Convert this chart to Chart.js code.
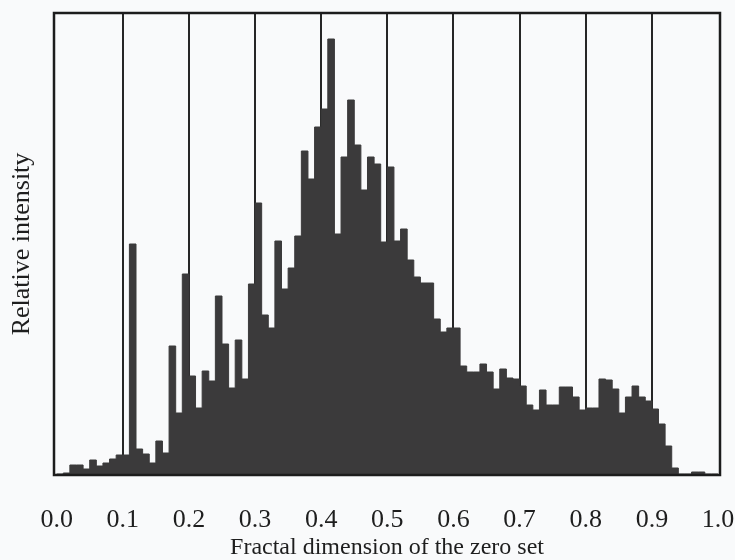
<!DOCTYPE html>
<html>
<head>
<meta charset="utf-8">
<script src="https://cdn.jsdelivr.net/npm/chart.js@4.4.0/dist/chart.umd.min.js"></script>
<style>
  html, body { margin: 0; padding: 0; background: #f9fafb; }
  #wrap { width: 735px; height: 560px; }
</style>
</head>
<body>
<div id="wrap"><canvas id="histChart" width="735" height="560"></canvas></div>
<script>
// Histogram bins are 0.01 wide, starting at 0.00
const binWidth = 0.01;

// Relative intensity per bin (arbitrary units)
const intensity = [
  1, 2, 10, 10, 6, 15, 9, 12, 16, 20,
  20, 231, 26, 21, 12, 34, 22, 129, 62, 201,
  99, 67, 104, 94, 179, 131, 87, 135, 96, 191,
  272, 160, 147, 234, 186, 207, 239, 324, 296, 348,
  366, 436, 241, 318, 375, 330, 285, 318, 311, 233,
  308, 234, 246, 215, 198, 192, 192, 156, 143, 147,
  147, 109, 103, 103, 111, 103, 86, 106, 97, 96,
  89, 70, 65, 85, 70, 70, 88, 88, 78, 65,
  67, 67, 96, 95, 86, 62, 78, 89, 78, 74,
  66, 51, 29, 7, 1, 1, 3, 3, 1, 1
];

const tickValues = [0, 0.1, 0.2, 0.3, 0.4, 0.5, 0.6, 0.7, 0.8, 0.9, 1.0];
const tickLabels = ['0.0', '0.1', '0.2', '0.3', '0.4', '0.5', '0.6', '0.7', '0.8', '0.9', '1.0'];

const xTitle = 'Fractal dimension of the zero set';
const yTitle = 'Relative intensity';

const serif = '"Liberation Serif", "DejaVu Serif", serif';
const barColor = '#3b3a3b';

// Build step points: each bin starts at its left edge, close at 1.0
function buildSteps() {
  const pts = intensity.map((v, i) => ({ x: i * binWidth, y: v }));
  pts.push({ x: intensity.length * binWidth, y: 0 });
  return pts;
}

// Draw the box around the plot
const framePlugin = {
  id: 'frame',
  afterDatasetsDraw(chart) {
    const { ctx, chartArea: a } = chart;
    ctx.save();
    ctx.strokeStyle = '#1c1c1c';
    ctx.lineWidth = 2.5;
    ctx.strokeRect(a.left, a.top, a.right - a.left, a.bottom - a.top);
    ctx.restore();
  },
};

function createChart() {
  const ctx = document.getElementById('histChart').getContext('2d');

  /* global Chart */
  return new Chart(ctx, {
    type: 'line',
    data: {
      datasets: [{
        data: buildSteps(),
        stepped: true,
        fill: 'origin',
        backgroundColor: barColor,
        borderColor: barColor,
        borderWidth: 1,
        pointRadius: 0,
      }],
    },
    options: {
      responsive: false,
      animation: false,
      devicePixelRatio: 1,
      layout: { padding: { top: 13, right: 15, bottom: 0, left: 0 } },
      plugins: {
        legend: { display: false },
        tooltip: { enabled: false },
      },
      scales: {
        x: {
          type: 'linear',
          min: -0.004,
          max: 1.003,
          afterBuildTicks: (scale) => {
            scale.ticks = tickValues.map((v) => ({ value: v }));
          },
          afterFit: (scale) => {
            scale.height = 85;
            scale.paddingLeft = 0;
            scale.paddingRight = 0;
          },
          ticks: {
            autoSkip: false,
            maxRotation: 0,
            padding: 30,
            color: '#1e1e1e',
            font: { family: serif, size: 26 },
            callback: (value, index) => tickLabels[index],
          },
          grid: {
            drawTicks: false,
            lineWidth: 2,
            color: (c) => (c.tick && (c.tick.value === 0 || c.tick.value === 1)) ? 'rgba(0,0,0,0)' : '#262626',
          },
          border: { display: false },
          title: {
            display: true,
            text: xTitle,
            color: '#1e1e1e',
            font: { family: serif, size: 24, lineHeight: 1 },
            padding: { top: 0, bottom: 0 },
          },
        },
        y: {
          min: 0,
          max: 462,
          afterFit: (scale) => { scale.width = 54; },
          ticks: { display: false },
          grid: { display: false },
          border: { display: false },
          title: {
            display: true,
            text: yTitle,
            color: '#1e1e1e',
            font: { family: serif, size: 26 },
            padding: { top: 7, bottom: 0 },
          },
        },
      },
    },
    plugins: [framePlugin],
  });
}

document.addEventListener('DOMContentLoaded', createChart);
</script>
</body>
</html>
